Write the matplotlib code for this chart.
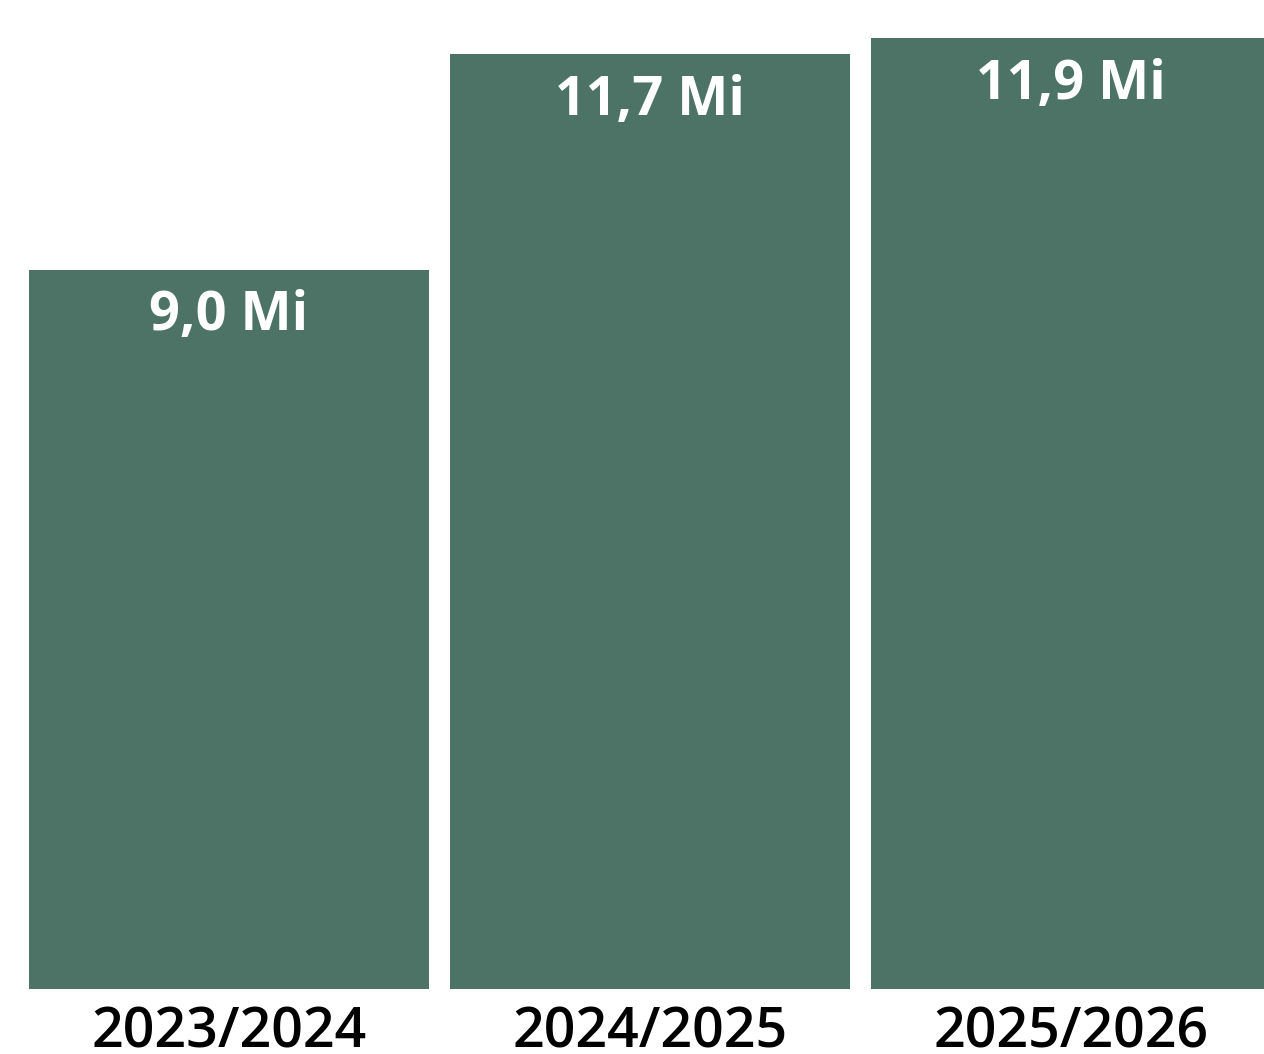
import matplotlib.pyplot as plt

seasons = ["2023/2024", "2024/2025", "2025/2026"]
values = [9.0, 11.7, 11.9]
labels = ["9,0 Mi", "11,7 Mi", "11,9 Mi"]

plt.rcParams['font.family'] = ['Open Sans', 'DejaVu Sans']

fig = plt.figure(figsize=(12.64, 10.54), dpi=100)
# axes bottom sits on the bar baseline, the chart is cropped at top and right
ax = fig.add_axes([0, 1 - 989 / 1054, 1, 989 / 1054])

x = range(len(values))
bars = ax.bar(x, values, width=0.95, color='#4c7366')

for b, lab in zip(bars, labels):
    ax.annotate(lab, (b.get_x() + b.get_width() / 2, b.get_height()),
                xytext=(0, -14), textcoords='offset points',
                ha='center', va='top', color='white',
                fontsize=39, fontweight='bold')

ax.set_xlim(-229 / 421, (1264 - 229) / 421)
ax.set_ylim(0, 989 / 79.9)
ax.set_xticks(list(x))
ax.set_xticklabels(seasons, fontsize=40, fontweight='semibold')
ax.tick_params(axis='x', length=0, pad=12)
ax.set_yticks([])
for s in ax.spines.values():
    s.set_visible(False)

fig.savefig("out.png", dpi=100)
